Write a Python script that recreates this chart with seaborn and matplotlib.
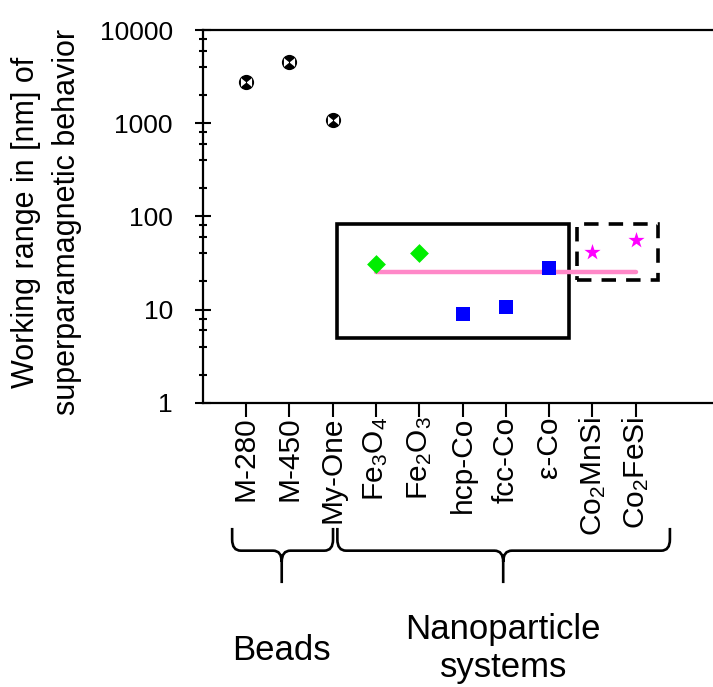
import numpy as np
import pandas as pd
import matplotlib
matplotlib.use("Agg")
import matplotlib.pyplot as plt
import matplotlib.ticker as mticker
from matplotlib.path import Path
from matplotlib.patches import PathPatch, Rectangle
import seaborn as sns

# data
labels = ["M-280", "M-450", "My-One",
          r"$\mathregular{Fe_3O_4}$", r"$\mathregular{Fe_2O_3}$",
          "hcp-Co", "fcc-Co", "ε-Co",
          r"$\mathregular{Co_2MnSi}$", r"$\mathregular{Co_2FeSi}$"]
values = [2780, 4490, 1080, 30.8, 40.1, 8.95, 10.6, 27.7, 41.7, 55.7]
kinds = ["bead"] * 3 + ["oxide"] * 2 + ["cobalt"] * 3 + ["heusler"] * 2
mean_value = 25.4           # pink line, Fe3O4 .. Co2FeSi
mean_span = (4, 10)

# boxes around the groups (x in category units, y in nm)
solid_box = (3.11, 8.46, 5.0, 82.7)
dashed_box = (8.65, 10.52, 20.7, 82.7)

df = pd.DataFrame({"label": labels, "x": np.arange(1, len(labels) + 1),
                   "value": values, "kind": kinds})

sns.set_style("ticks")
plt.rcParams["font.family"] = ["Liberation Sans", "DejaVu Sans"]
plt.rcParams["mathtext.fontset"] = "custom"
plt.rcParams["mathtext.rm"] = "Liberation Sans"
for key in ["text.color", "axes.labelcolor", "xtick.color", "ytick.color", "axes.edgecolor"]:
    plt.rcParams[key] = "black"

fig = plt.figure(figsize=(7.13, 6.87), dpi=100)
ax = fig.add_axes([202.7 / 713, 1 - 402.7 / 687, 12 * 43.3 / 713, 372.7 / 687])

# beads: black disc with white bow-tie
bowtie = [(-1, -0.8), (-1, 0.8), (1, -0.8), (1, 0.8)]
beads = df[df.kind == "bead"]
sns.scatterplot(data=beads, x="x", y="value", marker="o", color="black",
                s=120, linewidth=0, ax=ax, zorder=3)
sns.scatterplot(data=beads, x="x", y="value", marker=bowtie, color="white",
                s=64, linewidth=0, ax=ax, zorder=4)

styles = {"oxide": ("D", "#00ee00", 92),
          "cobalt": ("s", "#0000ff", 92),
          "heusler": ("*", "#ff00ff", 150)}
for kind, (mk, col, size) in styles.items():
    sub = df[df.kind == kind]
    sns.scatterplot(data=sub, x="x", y="value", marker=mk, color=col,
                    s=size, linewidth=0, ax=ax, zorder=3)

line_df = pd.DataFrame({"x": list(mean_span), "value": [mean_value] * 2})
sns.lineplot(data=line_df, x="x", y="value", color="#ff88c8", lw=3.2,
             ax=ax, zorder=2)

x0, x1, y0, y1 = solid_box
ax.add_patch(Rectangle((x0, y0), x1 - x0, y1 - y0, fill=False,
                       lw=2.6, ec="black", zorder=1))
x0, x1, y0, y1 = dashed_box
ax.add_patch(Rectangle((x0, y0), x1 - x0, y1 - y0, fill=False,
                       lw=2.6, ec="black", ls=(0, (4, 2.8)), zorder=1))

ax.set_yscale("log")
ax.set_ylim(1, 10000)
ax.set_xlim(0, 12)
ax.yaxis.set_major_locator(mticker.LogLocator(base=10, numticks=10))
ax.yaxis.set_minor_locator(mticker.LogLocator(base=10, subs=(2, 4, 6, 8), numticks=10))
ax.yaxis.set_minor_formatter(mticker.NullFormatter())
ax.yaxis.set_major_formatter(mticker.FuncFormatter(lambda v, p: f"{v:.0f}"))
ax.set_xticks(df.x)
ax.set_xticklabels(labels, rotation=90, fontsize=21.5)
ax.tick_params(axis="x", direction="out", length=10, width=1.5, pad=0, top=False)
ax.tick_params(axis="y", which="major", direction="inout", length=11, width=1.5,
               labelsize=19, pad=16, right=False)
ax.tick_params(axis="y", which="minor", direction="inout", length=6, width=1.5, right=False)
for sp in ax.spines.values():
    sp.set_linewidth(1.6)

ax.set_xlabel("")
ax.set_ylabel("Working range in [nm] of\nsuperparamagnetic behavior",
              fontsize=22, linespacing=1.5)
ax.yaxis.set_label_coords(-0.232, 0.484)

# group braces under the tick labels
trans = ax.get_xaxis_transform()


def brace(xa, xb, xc, ytop=-0.336, ymid=-0.397, ytip=-0.484, rx=0.2, ry=0.03):
    verts = [(xa, ytop), (xa, ymid + ry), (xa, ymid), (xa + rx, ymid),
             (xc - rx, ymid), (xc, ymid), (xc, ymid - ry), (xc, ytip),
             (xc, ymid - ry), (xc, ymid), (xc + rx, ymid),
             (xb - rx, ymid), (xb, ymid), (xb, ymid + ry), (xb, ytop)]
    codes = [Path.MOVETO, Path.LINETO, Path.CURVE3, Path.CURVE3,
             Path.LINETO, Path.CURVE3, Path.CURVE3, Path.LINETO,
             Path.MOVETO, Path.CURVE3, Path.CURVE3,
             Path.LINETO, Path.CURVE3, Path.CURVE3, Path.LINETO]
    ax.add_patch(PathPatch(Path(verts, codes), fill=False, lw=1.9,
                           ec="black", transform=trans, clip_on=False))


brace(0.68, 3.01, 1.825)
brace(3.11, 10.79, 6.94)
ax.text(1.825, -0.664, "Beads", transform=trans, ha="center", va="center",
        fontsize=25)
ax.text(6.94, -0.660, "Nanoparticle\nsystems", transform=trans, ha="center",
        va="center", fontsize=25, linespacing=1.2)

fig.savefig("out.png", dpi=100)
